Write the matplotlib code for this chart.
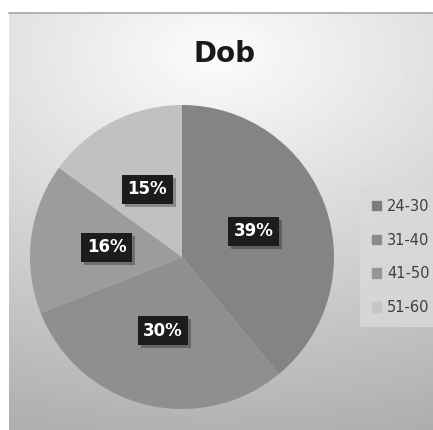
import numpy as np
import matplotlib.pyplot as plt
import matplotlib.patheffects as pe

title = "Dob"
groups = ["24-30", "31-40", "41-50", "51-60"]
shares = [39, 30, 16, 15]
colors = ["#848486", "#8f8f91", "#9c9c9e", "#c1c1c3"]
legend_colors = ["#7c7c7e", "#8a8a8c", "#969698", "#c6c6c8"]

W, H = 433, 430
fig = plt.figure(figsize=(W / 100, H / 100), dpi=100)
fig.patch.set_facecolor("white")

# radial gray background of the chart area
bg = fig.add_axes([9 / W, 0, 1 - 9 / W, 417 / H])
yy, xx = np.mgrid[0:417, 0:424]
d = np.hypot((xx - 207) / 600, (yy - 40) / 380)
shade = np.clip(252 - 75 * d, 170, 255) / 255
bg.imshow(shade, cmap="gray", vmin=0, vmax=1, aspect="auto", interpolation="bilinear")
bg.axis("off")
fig.add_artist(plt.Line2D([9 / W, 1], [417 / H, 417 / H], color="#a8a8a8", lw=1.2))

# pie: center (182, 257) px, radius 152 px
cx, cy, r = 182, 257, 152
ax = fig.add_axes([(cx - r) / W, (H - cy - r) / H, 2 * r / W, 2 * r / H])
wedges, _ = ax.pie(shares, colors=colors, startangle=90, counterclock=False,
                   radius=1, wedgeprops=dict(linewidth=0))
ax.set_xlim(-1, 1)
ax.set_ylim(-1, 1)
ax.set_aspect("equal")
ax.axis("off")
for w in wedges:
    w.set_clip_on(False)

angle = 90
for v in shares:
    mid = np.deg2rad(angle - v * 3.6 / 2)
    angle -= v * 3.6
    ax.text(0.5 * np.cos(mid), 0.5 * np.sin(mid), f"{v}%", ha="center", va="center",
            color="white", fontsize=12, fontweight="bold",
            bbox=dict(boxstyle="square,pad=0.33", fc="#1c1c1c", ec="none",
                      path_effects=[pe.withSimplePatchShadow(offset=(2, -2), alpha=0.3)]))

fig.text(224 / W, 1 - 54 / H, title, ha="center", va="center",
         fontsize=20, fontweight="bold", color="#1a1a1a")

handles = [plt.Rectangle((0, 0), 1, 1, color=c) for c in legend_colors]
leg = fig.legend(handles, groups, loc="center left", bbox_to_anchor=(353 / W, 1 - 257 / H),
                 frameon=True, fancybox=False, fontsize=10.5, handlelength=0.65,
                 handleheight=0.65, handletextpad=0.4, labelspacing=1.3,
                 borderpad=0.8, labelcolor="#404040")
leg.get_frame().set_facecolor("#dadadc")
leg.get_frame().set_edgecolor("none")

fig.savefig("out.png", dpi=100)
